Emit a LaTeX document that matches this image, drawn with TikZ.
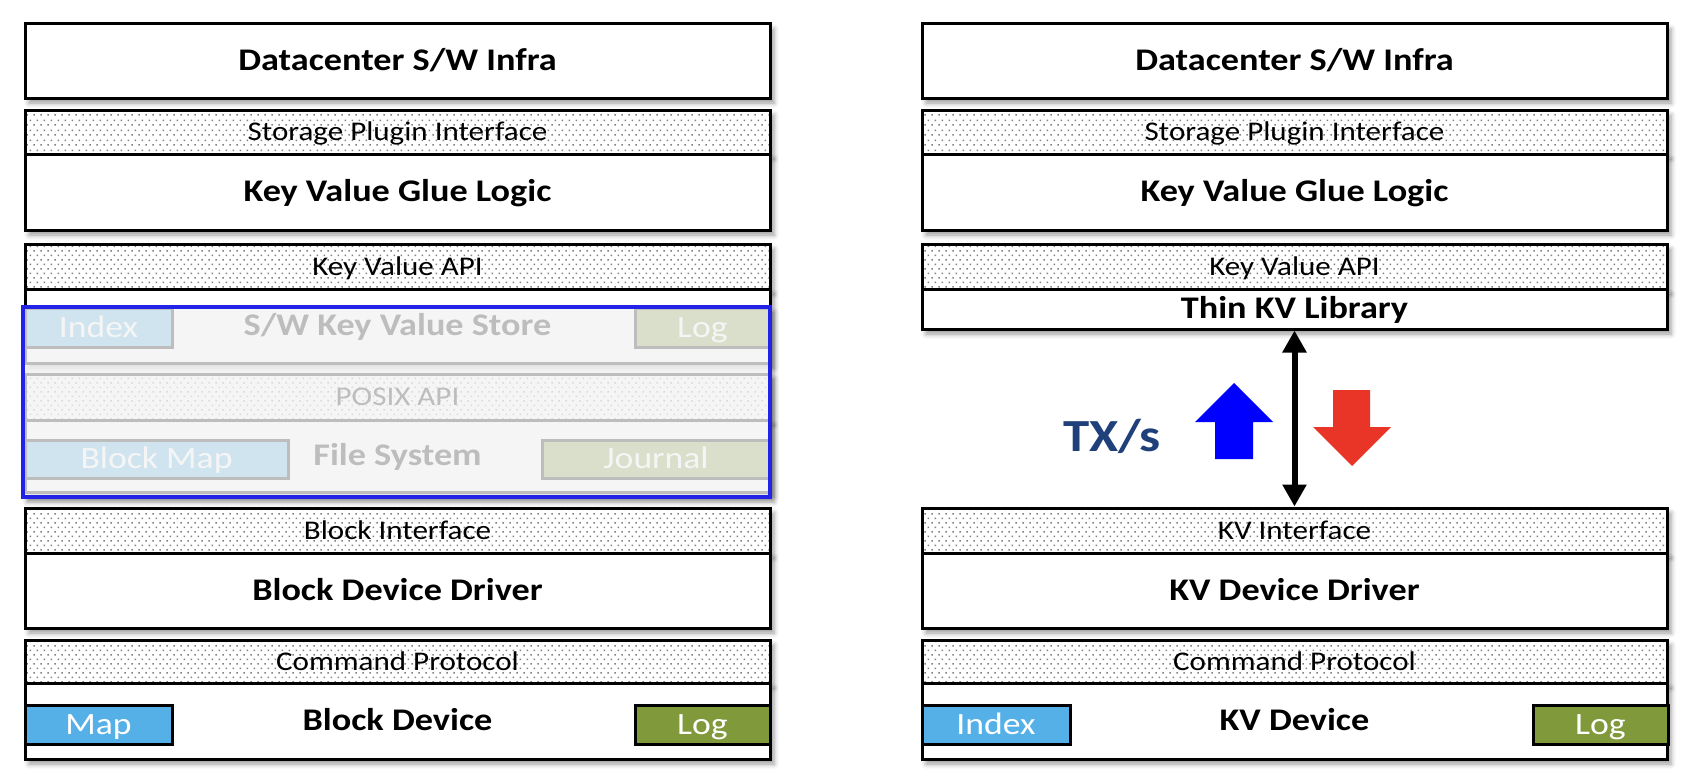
\documentclass[tikz,border=0pt]{standalone}
\usepackage{fontspec}
\setmainfont{Carlito}[FakeStretch=1.15]
\usetikzlibrary{shadows.blur,patterns.meta,arrows.meta}
\definecolor{mapblue}{RGB}{86,176,232}
\definecolor{logolive}{RGB}{128,153,58}
\definecolor{txblue}{RGB}{31,64,122}
\definecolor{bbox}{RGB}{35,35,232}
\definecolor{upblue}{RGB}{0,0,255}
\definecolor{downred}{RGB}{233,53,39}
\definecolor{fadegray}{RGB}{243,243,243}
\tikzdeclarepattern{name=pdots, type=uncolored,
  bottom left={(0pt,0pt)}, top right={(6.6pt,9.4pt)}, tile size={(6.6pt,9.4pt)},
  code={\fill (0.5pt,0.5pt) rectangle (2pt,2pt); \fill (3.8pt,5.2pt) rectangle (5.3pt,6.7pt);}}
\tikzset{
  shad/.style={blur shadow={shadow xshift=4pt, shadow yshift=-5pt, shadow blur radius=5pt, shadow opacity=40}},
  layerbox/.style={shad, draw=black, line width=3pt, fill=white, inner sep=0pt,
    minimum width=745pt, font=\bfseries\fontsize{31.5}{36}\selectfont,
    text height=26.2pt, text depth=6.3pt},
  stripebox/.style={shad, draw=black, line width=3pt, preaction={fill=white},
    pattern=pdots, pattern color=gray, inner sep=0pt, minimum width=745pt,
    font=\fontsize{27}{31}\selectfont, text height=22.5pt, text depth=5.4pt},
  tagbox/.style={draw=black, line width=3pt, inner sep=0pt, text=white,
    font=\fontsize{31}{35}\selectfont, text height=25.8pt, text depth=6.2pt},
}
\begin{document}
\begin{tikzpicture}[x=1pt,y=-1pt]
\useasboundingbox (0,0) rectangle (1696,776);
% ---------- left column ----------
\node[layerbox, minimum height=74pt] (ldc) at (397.5,61) {Datacenter S/W Infra};
\node[stripebox, minimum height=44pt] (lsp) at (397.5,132) {Storage Plugin Interface};
\node[layerbox, minimum height=76pt] (lglue) at (397.5,192) {Key Value Glue Logic};
\node[fill=white, shad, minimum width=747pt, minimum height=190pt, inner sep=0pt] (fade) at (396.5,402) {};
\node[stripebox, minimum height=45pt] (lkvapi) at (397.5,266.5) {Key Value API};
\node[layerbox, minimum height=74pt] (lswkv) at (397.5,326) {S/W Key Value Store};
\node[tagbox, fill=mapblue, minimum width=147pt, minimum height=39pt] (lidx) at (98.5,327.5) {Index};
\node[tagbox, fill=logolive, minimum width=135pt, minimum height=39pt] (llog1) at (702.5,327.5) {Log};
\node[stripebox, minimum height=46pt] (lposix) at (397.5,397) {POSIX API};
\node[layerbox, minimum height=72pt] (lfs) at (397.5,456) {File System};
\node[tagbox, fill=mapblue, minimum width=263pt, minimum height=38pt] (lbmap) at (156.5,459) {Block Map};
\node[tagbox, fill=logolive, minimum width=228pt, minimum height=38pt] (ljour) at (656,459) {Journal};
\fill[fadegray, opacity=0.78] (fade.south west) rectangle (fade.north east);
\draw[bbox, line width=4pt] (fade.south west) rectangle (fade.north east);
\node[stripebox, minimum height=45pt] (lbif) at (397.5,530.5) {Block Interface};
\node[layerbox, minimum height=75pt] (ldrv) at (397.5,590.5) {Block Device Driver};
\node[stripebox, minimum height=43pt] (lcmd) at (397.5,661.5) {Command Protocol};
\node[layerbox, minimum height=76pt] (ldev) at (397.5,721) {Block Device};
\node[tagbox, fill=mapblue, minimum width=147pt, minimum height=39pt] (lmap) at (98.5,724.5) {Map};
\node[tagbox, fill=logolive, minimum width=135pt, minimum height=39pt] (llog) at (702.5,724.5) {Log};
% ---------- right column ----------
\node[layerbox, minimum height=74pt] (rdc) at (1294.5,61) {Datacenter S/W Infra};
\node[stripebox, minimum height=44pt] (rsp) at (1294.5,132) {Storage Plugin Interface};
\node[layerbox, minimum height=76pt] (rglue) at (1294.5,192) {Key Value Glue Logic};
\node[stripebox, minimum height=45pt] (rkvapi) at (1294.5,266.5) {Key Value API};
\node[layerbox, minimum height=40pt] (rthin) at (1294.5,309) {Thin KV Library};
\node[stripebox, minimum height=45pt] (rkvif) at (1294.5,530.5) {KV Interface};
\node[layerbox, minimum height=75pt] (rdrv) at (1294.5,590.5) {KV Device Driver};
\node[stripebox, minimum height=43pt] (rcmd) at (1294.5,661.5) {Command Protocol};
\node[layerbox, minimum height=76pt] (rdev) at (1294.5,721) {KV Device};
\node[tagbox, fill=mapblue, minimum width=148pt, minimum height=39pt] (ridx) at (996,724.5) {Index};
\node[tagbox, fill=logolive, minimum width=135pt, minimum height=39pt] (rlog) at (1600.5,724.5) {Log};
% ---------- throughput ----------
\draw[line width=6pt, {Triangle[width=23pt,length=22pt]}-{Triangle[width=23pt,length=22pt]}] (rthin.south) -- (rkvif.north);
\node[text=txblue, font=\bfseries\fontsize{46}{50}\selectfont, text height=38.3pt, text depth=9.2pt, inner sep=0pt] (tx) at (1112,437) {TX/s};
\fill[upblue] (1234,383) -- (1273,422) -- (1253,422) -- (1253,459) -- (1215,459) -- (1215,422) -- (1195,422) -- cycle;
\fill[downred] (1352,466) -- (1391,427) -- (1370,427) -- (1370,390) -- (1333,390) -- (1333,427) -- (1313,427) -- cycle;
\end{tikzpicture}
\end{document}
